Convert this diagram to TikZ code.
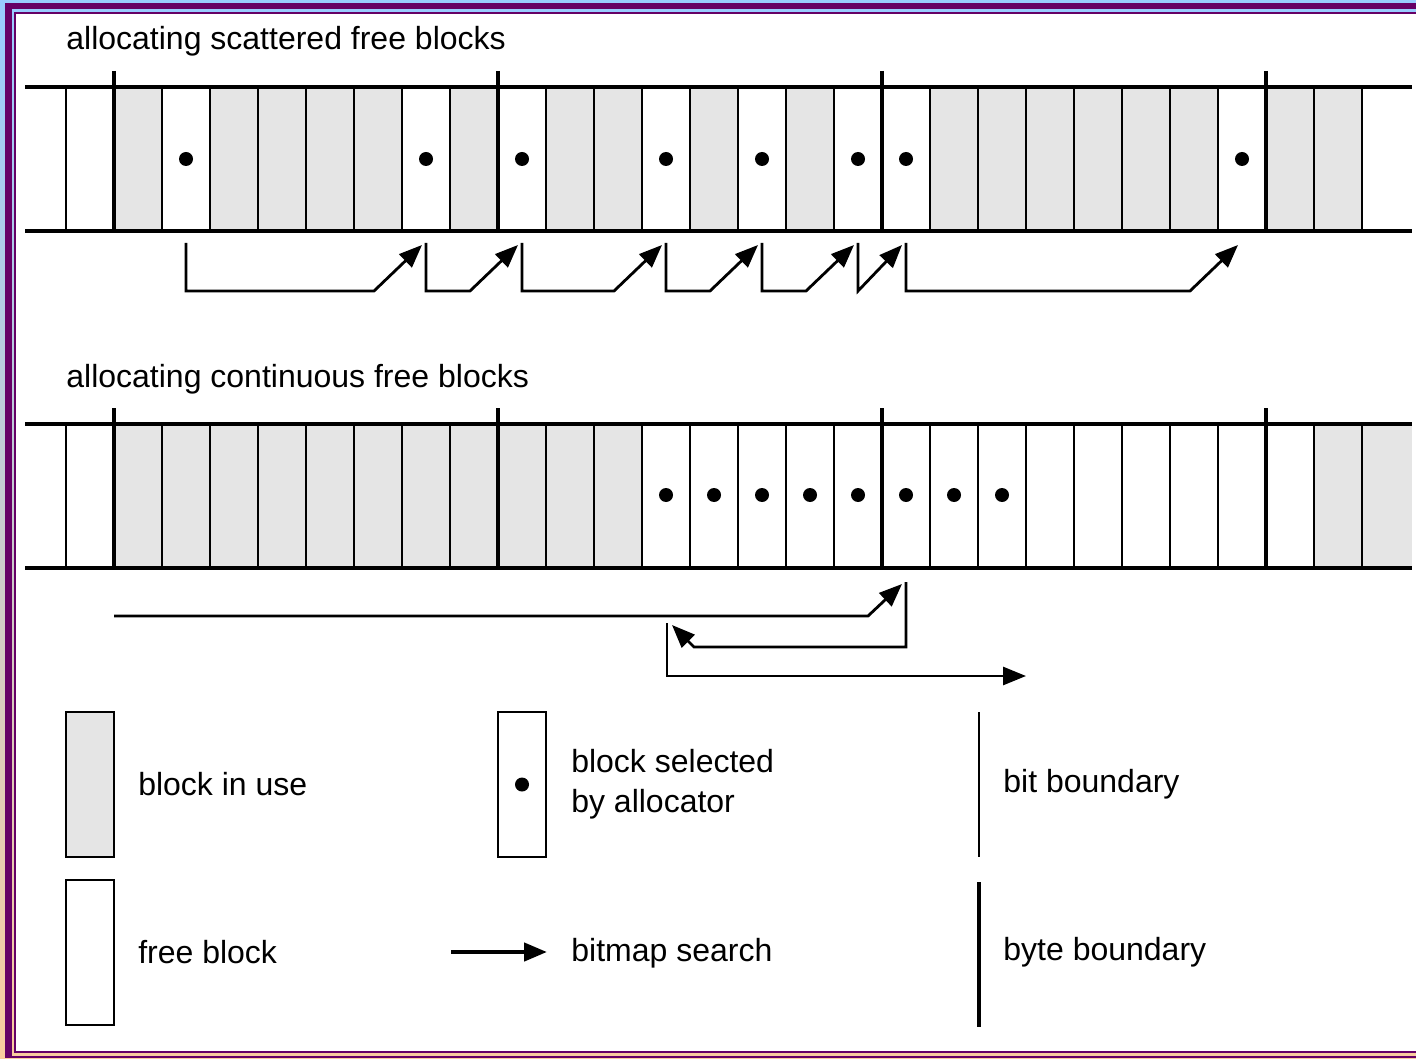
\documentclass[tikz,border=0pt]{standalone}
\usepackage{fontspec}
\setmainfont{Liberation Sans}
\usetikzlibrary{arrows.meta,positioning,calc}
\definecolor{usedcol}{RGB}{229,229,229}
\definecolor{framecol}{RGB}{102,0,102}
\definecolor{skycol}{RGB}{153,204,255}
\definecolor{peachcol}{RGB}{250,204,158}

\begin{document}
\begin{tikzpicture}[
  x=0.5pt, y=-0.5pt,
  >={Triangle[length=11.5pt,width=9pt]},
  rowline/.style={line width=2.2pt},
  bitline/.style={line width=1.3pt},
  byteline/.style={line width=2.4pt},
  search/.style={line width=1.4pt,->},
  seldot/.style={circle,fill,inner sep=0pt,minimum size=7pt},
  legbox/.style={draw,line width=1.3pt,minimum width=24pt,minimum height=72.5pt,inner sep=0pt},
  legtext/.style={font=\fontsize{16}{20}\selectfont,inner sep=0pt,align=left},
  title/.style={font=\fontsize{16}{20}\selectfont,anchor=base west,inner sep=0pt}]
\useasboundingbox (0,0) rectangle (1416,1058);
\shade[top color=skycol,bottom color=peachcol] (0,0) rectangle (1416,1058);
\fill[framecol] (5,3) rectangle (1416,1058);
\shade[top color=skycol,bottom color=peachcol] (12,10) rectangle (1416,1055);
\fill[framecol] (14,12) rectangle (1416,1053);
\fill[white] (16,14) rectangle (1416,1051);

\node[title] (scat) at (66,50) {allocating scattered free blocks};
\node[title] (cont) at (66,387) {allocating continuous free blocks};

\foreach \i in {1,3,4,5,6,8,10,11,13,15,18,19,20,21,22,23,25,26}
  \fill[usedcol] (66+48*\i,87) rectangle ++(48,144);
\foreach \i in {1,...,11,26}
  \fill[usedcol] (66+48*\i,424) rectangle ++(48,144);
\fill[usedcol] (1362,424) rectangle (1412,568);

\foreach \rowy in {87,424} {
  \foreach \i in {0,...,27}
    \draw[bitline] (66+48*\i,\rowy) -- ++(0,144);
  \foreach \k in {0,...,3}
    \draw[byteline] (114+384*\k,\rowy-16) -- (114+384*\k,\rowy+144);
  \draw[rowline] (25,\rowy) -- (1412,\rowy) (25,\rowy+144) -- (1412,\rowy+144);
}

\foreach \x [count=\n] in {186,426,522,666,762,858,906,1242} {
  \node[seldot] (d\n) at (\x,159) {};
  \coordinate (s\n) at (\x,243);
}
\foreach \a/\b in {1/2,2/3,3/4,4/5,5/6,7/8}
  \draw[search] (s\a) |- ($(s\b)+(-52,48)$) -- ($(s\b)+(-4,2)$);
\draw[search] (s6) -- ++(0,48) -- ($(s7)+(-4,2)$);

\foreach \x [count=\n] in {666,714,...,1002} {
  \node[seldot] (e\n) at (\x,495) {};
  \coordinate (t\n) at (\x,582);
}
\coordinate (start) at (114,616);
\coordinate (back) at (667,623);
\draw[search] (start) -- ($(t6)+(-38,34)$) -- ($(t6)+(-4,2)$);
\draw[search] (t6) |- ($(t1)+(28,65)$) -- ($(t1)+(6,43)$);
\draw[search] (back) |- ($(t8)+(24,94)$);

\node[legbox,fill=usedcol] (inuse) at (90,784.5) {};
\node[legtext,right=11.3pt of inuse] (inusetxt) {block in use};
\node[legbox] (sel) at (522,784.5) {};
\node[seldot] (selpt) at (sel) {};
\node[legtext,right=11.8pt of sel] (seltxt) {block selected\\by allocator};
\coordinate (bittop) at (979,712);
\coordinate (bitbot) at (979,857);
\draw[bitline] (bittop) -- (bitbot);
\node[legtext,anchor=west] (bittxt) at (1003,784) {bit boundary};

\node[legbox] (free) at (90,952.5) {};
\node[legtext,right=11.3pt of free] (freetxt) {free block};
\coordinate (srcha) at (451,952);
\coordinate (srchb) at (547,952);
\draw[search,line width=2.2pt] (srcha) -- (srchb);
\node[legtext,anchor=west] (srchtxt) at (571,953) {bitmap search};
\coordinate (bytetop) at (979,882);
\coordinate (bytebot) at (979,1027);
\draw[byteline] (bytetop) -- (bytebot);
\node[legtext,anchor=west] (bytetxt) at (1003,952) {byte boundary};
\end{tikzpicture}
\end{document}
